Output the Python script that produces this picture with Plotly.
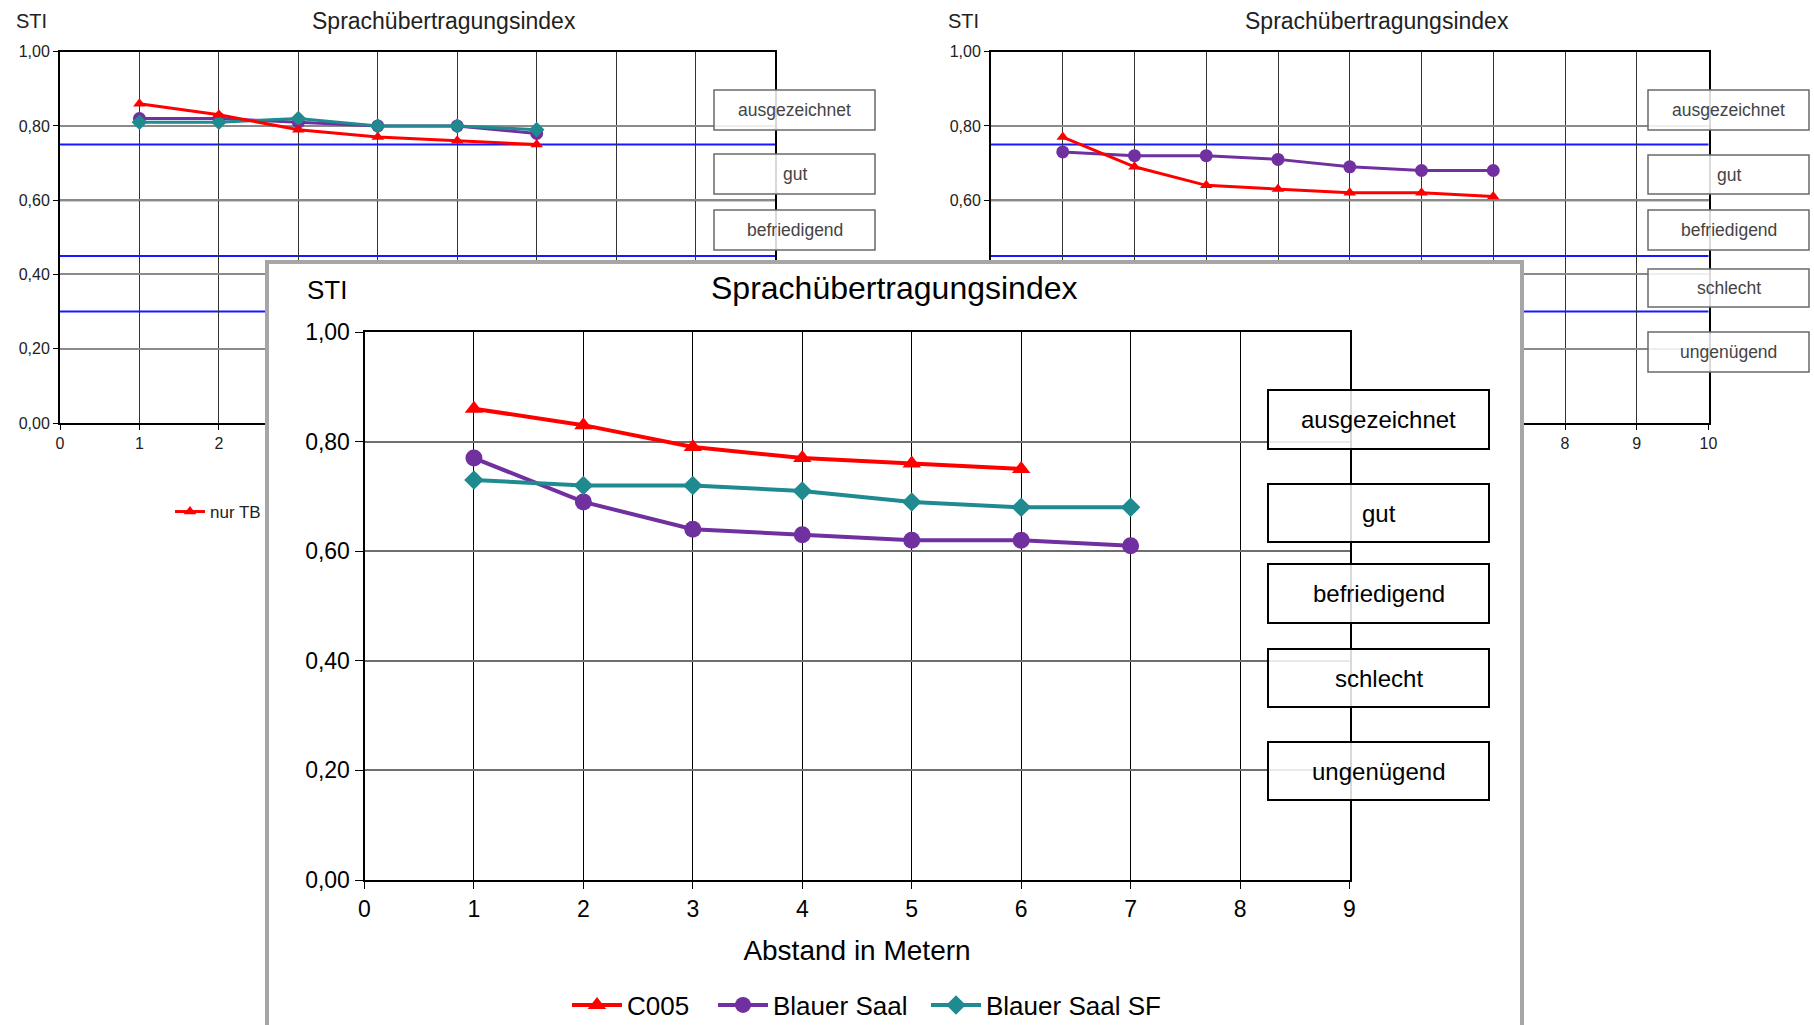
import plotly.graph_objects as go

# ---------------- data ----------------
distances_tl = [1, 2, 3, 4, 5, 6]
tl_nur_tb = [0.86, 0.83, 0.79, 0.77, 0.76, 0.75]
tl_series_2 = [0.82, 0.82, 0.81, 0.80, 0.80, 0.78]
tl_series_3 = [0.81, 0.81, 0.82, 0.80, 0.80, 0.79]

distances_tr = [1, 2, 3, 4, 5, 6, 7]
tr_series_1 = [0.77, 0.69, 0.64, 0.63, 0.62, 0.62, 0.61]
tr_series_2 = [0.73, 0.72, 0.72, 0.71, 0.69, 0.68, 0.68]

distances_c005 = [1, 2, 3, 4, 5, 6]
c005 = [0.86, 0.83, 0.79, 0.77, 0.76, 0.75]
distances_saal = [1, 2, 3, 4, 5, 6, 7]
blauer_saal = [0.77, 0.69, 0.64, 0.63, 0.62, 0.62, 0.61]
blauer_saal_sf = [0.73, 0.72, 0.72, 0.71, 0.69, 0.68, 0.68]

ratings = ["ausgezeichnet", "gut", "befriedigend", "schlecht", "ungenügend"]
thresholds = [0.75, 0.60, 0.45, 0.30]

y_ticks = [0.0, 0.2, 0.4, 0.6, 0.8, 1.0]
y_ticktext = ["0,00", "0,20", "0,40", "0,60", "0,80", "1,00"]
x_ticks_9 = list(range(0, 10))
x_ticks_10 = list(range(0, 11))

title_text = "Sprachübertragungsindex"
y_label = "STI"
x_title = "Abstand in Metern"

# ---------------- layout helpers ----------------
OFF = 0  # page body margin is removed below
W, H = 1814, 1025
def px(x):
    return (x - OFF) / W
def py(y):
    return 1 - (y - OFF) / H

FONT = "Liberation Sans, Arial, sans-serif"
RED = "#FF0000"
PURPLE = "#7030A0"
TEAL = "#1F8A8F"
BLUE = "#1818FF"

fig = go.Figure()

# ---- top-left chart (x, y) ----
fig.add_trace(go.Scatter(x=distances_tl, y=tl_series_2, name="Serie 2", mode="lines+markers",
                         line=dict(color=PURPLE, width=3), marker=dict(symbol="circle", size=13),
                         xaxis="x", yaxis="y", showlegend=False))
fig.add_trace(go.Scatter(x=distances_tl, y=tl_series_3, name="Serie 3", mode="lines+markers",
                         line=dict(color=TEAL, width=3), marker=dict(symbol="diamond", size=12),
                         xaxis="x", yaxis="y", showlegend=False))
fig.add_trace(go.Scatter(x=distances_tl, y=tl_nur_tb, name="nur TB", mode="lines+markers",
                         line=dict(color=RED, width=3), marker=dict(symbol="triangle-up", size=11),
                         xaxis="x", yaxis="y", legend="legend2"))

# ---- top-right chart (x2, y2) ----
fig.add_trace(go.Scatter(x=distances_tr, y=tr_series_2, name="Serie 2", mode="lines+markers",
                         line=dict(color=PURPLE, width=3), marker=dict(symbol="circle", size=13),
                         xaxis="x2", yaxis="y2", showlegend=False))
fig.add_trace(go.Scatter(x=distances_tr, y=tr_series_1, name="Serie 1", mode="lines+markers",
                         line=dict(color=RED, width=3), marker=dict(symbol="triangle-up", size=11),
                         xaxis="x2", yaxis="y2", showlegend=False))

# ---- cover panel (x3, y3) ----
fig.add_trace(go.Scatter(x=[None], y=[None], xaxis="x3", yaxis="y3", showlegend=False,
                         hoverinfo="skip", mode="markers"))

# ---- main chart (x4, y4) ----
fig.add_trace(go.Scatter(x=distances_c005, y=c005, name="C005", mode="lines+markers",
                         line=dict(color=RED, width=4), marker=dict(symbol="triangle-up", size=16),
                         xaxis="x4", yaxis="y4", legend="legend"))
fig.add_trace(go.Scatter(x=distances_saal, y=blauer_saal, name="Blauer Saal", mode="lines+markers",
                         line=dict(color=PURPLE, width=4), marker=dict(symbol="circle", size=17),
                         xaxis="x4", yaxis="y4", legend="legend3"))
fig.add_trace(go.Scatter(x=distances_saal, y=blauer_saal_sf, name="Blauer Saal SF", mode="lines+markers",
                         line=dict(color=TEAL, width=4), marker=dict(symbol="diamond", size=15),
                         xaxis="x4", yaxis="y4", legend="legend4"))

Y_TOP_BG, Y_BOT_BG = 51.7, 423

def bg_x(domain, ticks, visible, anchor):
    return dict(domain=domain, range=[ticks[0], ticks[-1]], tickvals=ticks,
                ticktext=[str(t) if t in visible else "" for t in ticks],
                showgrid=True, gridcolor="#333333",
                gridwidth=1, showline=True, linecolor="black", linewidth=2, mirror=True,
                ticks="outside", ticklen=5, tickcolor="black", tickfont=dict(size=16, color="#222"),
                zeroline=False, anchor=anchor)

def bg_y(anchor, visible):
    return dict(domain=[py(Y_BOT_BG), py(Y_TOP_BG)], range=[0, 1], tickvals=y_ticks,
                ticktext=[t if v in visible else "" for v, t in zip(y_ticks, y_ticktext)],
                showgrid=True, gridcolor="#8A8A8A", gridwidth=1.5, showline=True, linecolor="black",
                linewidth=2, mirror=True, ticks="outside", ticklen=5, tickcolor="black",
                tickfont=dict(size=16, color="#222"), zeroline=False, anchor=anchor)

def legend_at(x, size, color):
    return dict(orientation="h", x=px(x), y=py(1005 if size > 20 else 512), xanchor="left",
                yanchor="middle", font=dict(size=size, color=color), bgcolor="rgba(0,0,0,0)",
                itemwidth=50 if size > 20 else 30)

layout = dict(
    width=W, height=H,
    margin=dict(l=0, r=0, t=0, b=0, autoexpand=False),
    paper_bgcolor="white", plot_bgcolor="white",
    separators=",.",
    font=dict(family=FONT, color="black"),
    hovermode=False,
    xaxis=bg_x([px(60), px(775)], x_ticks_9, [0, 1, 2], "y"),
    yaxis=bg_y("x", y_ticks),
    xaxis2=bg_x([px(991), px(1708.5)], x_ticks_10, [8, 9, 10], "y2"),
    yaxis2=bg_y("x2", [0.6, 0.8, 1.0]),
    xaxis3=dict(domain=[px(269), px(1520)], range=[0, 1], showgrid=False, zeroline=False,
                showticklabels=False, ticks="", showline=True, linecolor="#A6A6A6", linewidth=4,
                side="top", anchor="y3"),
    yaxis3=dict(domain=[0, py(264)], range=[0, 1], showgrid=False, zeroline=False,
                showticklabels=False, ticks="", showline=True, linecolor="#A6A6A6", linewidth=4,
                mirror=True, anchor="x3"),
    xaxis4=dict(domain=[px(364.5), px(1349.5)], range=[0, 9], tickvals=x_ticks_9, showgrid=True,
                gridcolor="black", gridwidth=1, showline=True, linecolor="black", linewidth=2,
                mirror=True, ticks="outside", ticklen=7, tickcolor="black",
                tickfont=dict(size=23, color="black"), zeroline=False, anchor="y4",
                title=dict(text=x_title, font=dict(size=28, color="black"), standoff=20)),
    yaxis4=dict(domain=[py(880), py(332)], range=[0, 1], tickvals=y_ticks, ticktext=y_ticktext,
                showgrid=True, gridcolor="#6E6E6E", gridwidth=2, showline=True, linecolor="black",
                linewidth=2, mirror=True, ticks="outside", ticklen=8, tickcolor="black",
                tickfont=dict(size=23, color="black"), zeroline=False, anchor="x4"),
    legend=legend_at(567, 26, "black"),
    legend3=legend_at(713, 26, "black"),
    legend4=legend_at(926, 26, "black"),
    legend2=legend_at(170, 17, "#222"),
)
fig.update_layout(**layout)

shapes = []
annotations = []

# threshold lines in each chart
for xr, yr, w in [("x", "y", 2), ("x2", "y2", 2), ("x4", "y4", 2.5)]:
    for t in thresholds:
        shapes.append(dict(type="line", xref=f"{xr} domain", yref=yr, x0=0, x1=1, y0=t, y1=t,
                           line=dict(color=BLUE, width=w), layer="below"))

# rating boxes
def add_boxes(x0, x1, yranges, n, border, bw, fsize, fcolor):
    for label, (ya, yb) in zip(ratings[:n], yranges):
        shapes.append(dict(type="rect", xref="paper", yref="paper", x0=px(x0), x1=px(x1),
                           y0=py(yb), y1=py(ya), line=dict(color=border, width=bw),
                           fillcolor="rgba(255,255,255,0.85)", layer="above"))
        annotations.append(dict(text=label, xref="paper", yref="paper", x=px((x0 + x1) / 2),
                                y=py((ya + yb) / 2), showarrow=False, xanchor="center",
                                yanchor="middle", font=dict(size=fsize, color=fcolor)))

add_boxes(714, 875, [(90, 130), (154, 194), (210, 250)], 3, "#6A6A6A", 1.5, 17.5, "#444")
add_boxes(1648, 1809, [(90, 130), (155, 194), (210, 250), (269, 307), (332, 372)], 5,
          "#6A6A6A", 1.5, 17.5, "#444")
add_boxes(1268, 1489, [(390, 449), (484, 542), (564, 623), (649, 707), (742, 800)], 5,
          "black", 2, 24, "black")

# titles and STI labels
for x, y, txt, s in [(444, 21, title_text, 23), (1377, 21, title_text, 23),
                     (31, 21, y_label, 20), (963, 21, y_label, 20),
                     (894, 288, title_text, 32), (327, 290, y_label, 26)]:
    annotations.append(dict(text=txt, xref="paper", yref="paper", x=px(x), y=py(y),
                            showarrow=False, xanchor="center", yanchor="middle",
                            font=dict(size=s, color="black" if s > 23 else "#222")))

fig.update_layout(shapes=shapes, annotations=annotations)
fig.write_html("out.html", config=dict(displayModeBar=False),
               post_script="document.body.style.margin='0';")
